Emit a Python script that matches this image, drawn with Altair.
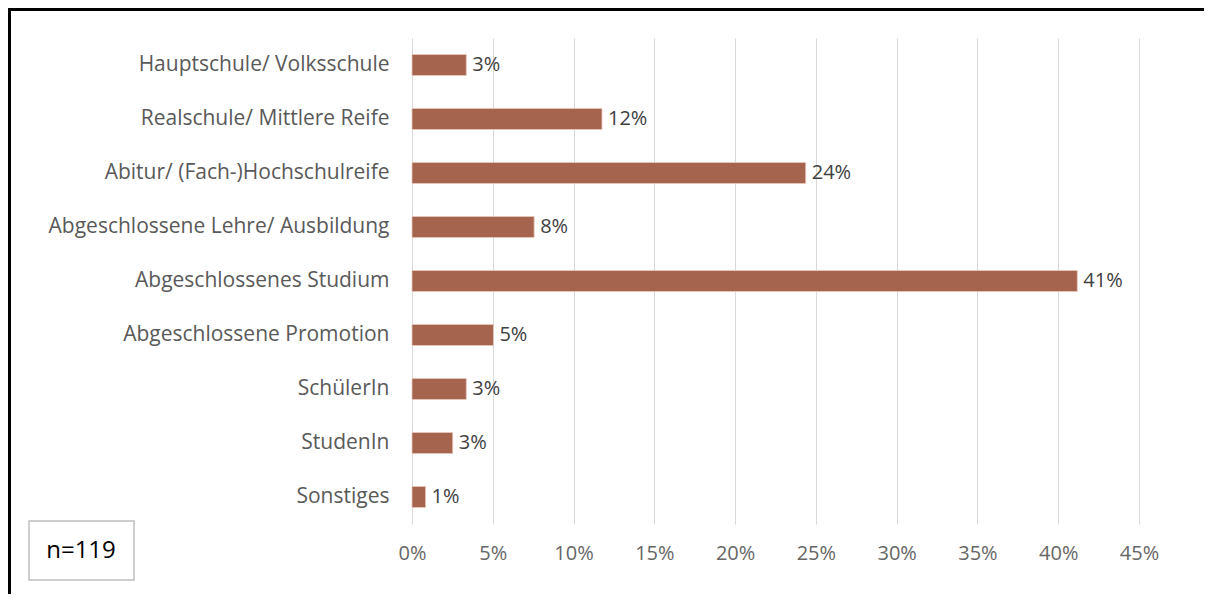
import altair as alt
import pandas as pd

categories = [
    "Hauptschule/ Volksschule",
    "Realschule/ Mittlere Reife",
    "Abitur/ (Fach-)Hochschulreife",
    "Abgeschlossene Lehre/ Ausbildung",
    "Abgeschlossenes Studium",
    "Abgeschlossene Promotion",
    "SchülerIn",
    "StudenIn",
    "Sonstiges",
]
shares = [0.0336, 0.1176, 0.2437, 0.0756, 0.4118, 0.0504, 0.0336, 0.0252, 0.0084]
x_ticks = [0, 0.05, 0.10, 0.15, 0.20, 0.25, 0.30, 0.35, 0.40, 0.45]
note_text = "n=119"

FONT = "Open Sans"
BAR = "#A5644E"
GREY = "#595959"
FS = 20

df = pd.DataFrame({"cat": categories, "share": shares})

y_enc = alt.Y(
    "cat:N",
    sort=categories,
    scale=alt.Scale(paddingInner=0.61, paddingOuter=0.305),
    axis=alt.Axis(
        title=None, domain=False, ticks=False, labelPadding=23, grid=False,
        labelFont=FONT, labelFontSize=21, labelColor=GREY, labelLimit=400,
    ),
)
x_enc = alt.X(
    "share:Q",
    scale=alt.Scale(domain=[0, 0.45], nice=False),
    axis=alt.Axis(
        title=None, values=x_ticks, format=".0%", domain=False, ticks=False,
        grid=True, gridColor="#d9d9d9", gridWidth=1, labelPadding=19,
        labelFlush=False, labelFont=FONT, labelFontSize=FS, labelColor="#666666",
    ),
)

base = alt.Chart(df)
bars = base.mark_bar(color=BAR, stroke="#e8c8bc", strokeWidth=0.8).encode(x=x_enc, y=y_enc)
labels = base.mark_text(
    align="left", baseline="middle", dx=6, font=FONT, fontSize=FS, color="#404040"
).encode(x="share:Q", y=alt.Y("cat:N", sort=categories), text=alt.Text("share:Q", format=".0%"))

note_df = pd.DataFrame({"t": [note_text]})
box = alt.Chart(note_df).mark_rect(fill="white", stroke="#bfbfbf", strokeWidth=1.5).encode(
    x=alt.value(-383), x2=alt.value(-278), y=alt.value(483), y2=alt.value(542)
)
note = alt.Chart(note_df).mark_text(
    align="center", baseline="middle", font=FONT, fontSize=24, color="black"
).encode(x=alt.value(-331), y=alt.value(513), text="t:N")

top_border = alt.Chart(note_df).mark_rule(color="black", strokeWidth=3).encode(
    x=alt.value(-404), x2=alt.value(792), y=alt.value(-28.5)
)
left_border = alt.Chart(note_df).mark_rule(color="black", strokeWidth=3).encode(
    x=alt.value(-402.5), y=alt.value(-30), y2=alt.value(562)
)

chart = (
    alt.layer(bars, labels, box, note, top_border, left_border)
    .properties(
        width=727,
        height=486,
        background="white",
        autosize=alt.AutoSizeParams(type="none"),
        padding={"left": 404, "top": 30, "right": 65, "bottom": 70},
    )
    .configure_view(strokeWidth=0)
)

chart.save("out.html", embed_options={"renderer": "svg", "actions": False})
